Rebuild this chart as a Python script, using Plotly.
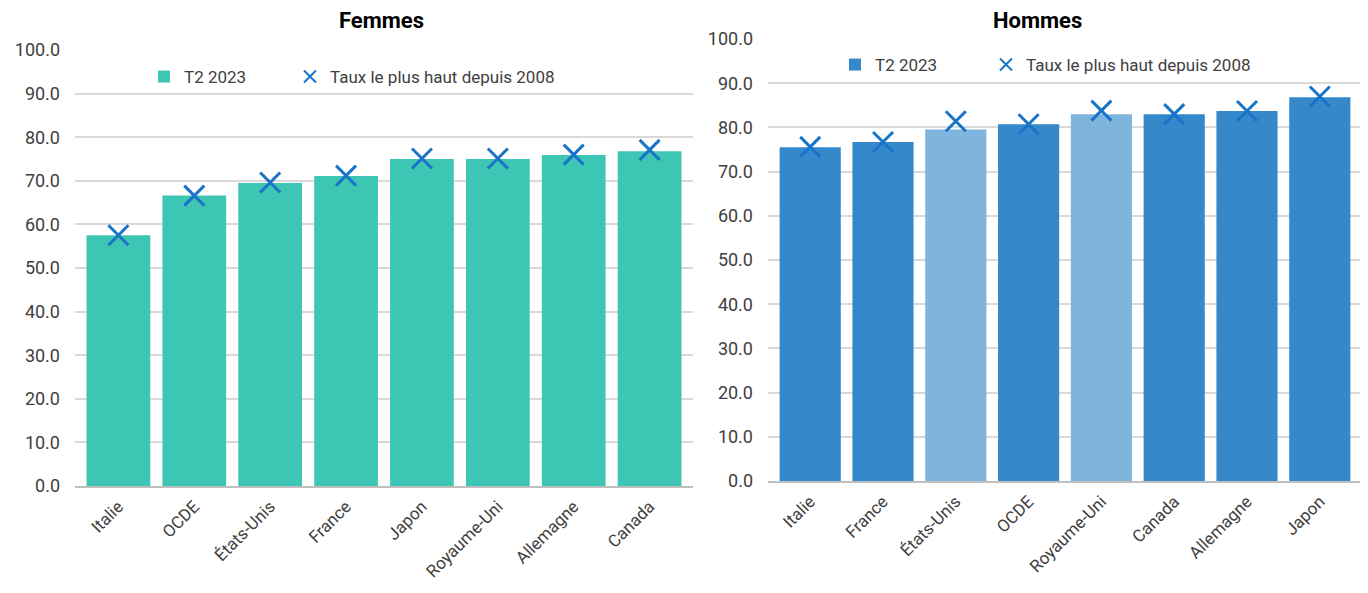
import plotly.graph_objects as go

# ---- data ----
femmes_pays = ["Italie", "OCDE", "États-Unis", "France", "Japon", "Royaume-Uni", "Allemagne", "Canada"]
femmes_t2_2023 = [57.5, 66.6, 69.5, 71.1, 75.0, 75.0, 75.9, 76.8]
femmes_max = [57.5, 66.6, 69.6, 71.2, 75.1, 75.1, 76.0, 77.1]

hommes_pays = ["Italie", "France", "États-Unis", "OCDE", "Royaume-Uni", "Canada", "Allemagne", "Japon"]
hommes_t2_2023 = [75.5, 76.7, 79.5, 80.7, 83.0, 83.0, 83.7, 86.8]
hommes_max = [75.6, 76.7, 81.4, 80.7, 83.8, 83.0, 83.7, 87.0]
hommes_clair = ["États-Unis", "Royaume-Uni"]

y_ticks = [0, 10, 20, 30, 40, 50, 60, 70, 80, 90, 100]

# ---- styles ----
FONT = "Roboto"
TXT = "#404040"
TEAL = "#3EC6B4"
BLUE = "#3589CB"
BLUE_LIGHT = "#7FB5DD"
MARK = "#1874C6"
GRID = "#D9D9D9"

# page body has an 8px margin: figure is laid out in its own coordinates
W, H = 1354, 577
OFF = 8

def xd(a, b):
    return [max(0, (a - OFF) / W), min(1, (b - OFF) / W)]

def yd(top, bottom):
    return [(H - (bottom - OFF)) / H, (H - (top - OFF)) / H]

def px(x):
    return (x - OFF) / W

def py(y):
    return 1 - (y - OFF) / H

fig = go.Figure()

mk = dict(symbol="x-thin", size=20, line=dict(color=MARK, width=3), color=MARK)

fig.add_trace(go.Bar(
    x=femmes_pays, y=femmes_t2_2023, name="T2 2023", showlegend=True,
    marker=dict(color=TEAL, line_width=0), xaxis="x", yaxis="y", legend="legend"))
fig.add_trace(go.Scatter(
    x=femmes_pays, y=femmes_max, name="Taux le plus haut depuis 2008", mode="markers",
    showlegend=True, marker=mk, xaxis="x", yaxis="y", legend="legend2"))

fig.add_trace(go.Bar(
    x=hommes_pays, y=hommes_t2_2023, name="T2 2023", showlegend=True,
    marker=dict(color=[BLUE_LIGHT if p in hommes_clair else BLUE for p in hommes_pays], line_width=0),
    xaxis="x2", yaxis="y2", legend="legend3"))
fig.add_trace(go.Scatter(
    x=hommes_pays, y=hommes_max, name="Taux le plus haut depuis 2008", mode="markers",
    showlegend=True, marker=mk, xaxis="x2", yaxis="y2", legend="legend4"))

yax_common = dict(range=[0, 100], tickvals=y_ticks, tickformat=".1f", showgrid=True,
                  gridcolor=GRID, gridwidth=2, zeroline=False, showline=False,
                  tickfont=dict(size=18, color=TXT, family=FONT), ticks="", automargin=False,
                  ticklabelstandoff=14)
xax_common = dict(tickangle=-45, tickfont=dict(size=17, color=TXT, family=FONT), ticks="",
                  showline=True, linecolor="#BFBFBF", linewidth=2, showgrid=False,
                  automargin=False, ticklabelstandoff=2)

def leg(x, y):
    return dict(orientation="h", x=px(x), y=py(y), xanchor="left", yanchor="middle",
                font=dict(size=17, color=TXT, family=FONT), bgcolor="rgba(0,0,0,0)",
                itemsizing="constant", visible=True)

fig.update_layout(
    width=W, height=H,
    showlegend=True,
    margin=dict(l=0, r=0, t=0, b=0),
    paper_bgcolor="white", plot_bgcolor="white",
    font=dict(family=FONT, color=TXT),
    bargap=0.16,
    xaxis=dict(domain=xd(75, 693), anchor="y", **xax_common),
    yaxis=dict(domain=yd(50, 486), anchor="x", **yax_common),
    xaxis2=dict(domain=xd(768, 1362), anchor="y2", **xax_common),
    yaxis2=dict(domain=yd(39, 481), anchor="x2", **yax_common),
    legend=leg(144, 77),
    legend2=leg(290, 77),
    legend3=leg(835, 65),
    legend4=leg(986, 65),
    annotations=[
        dict(text="<b>Femmes</b>", x=px(381), y=py(20), xref="paper", yref="paper",
             showarrow=False, font=dict(size=22, color="#000000", family=FONT),
             xanchor="center", yanchor="middle"),
        dict(text="<b>Hommes</b>", x=px(1037), y=py(20), xref="paper", yref="paper",
             showarrow=False, font=dict(size=22, color="#000000", family=FONT),
             xanchor="center", yanchor="middle"),
    ],
)

fig.write_html("out.html")
